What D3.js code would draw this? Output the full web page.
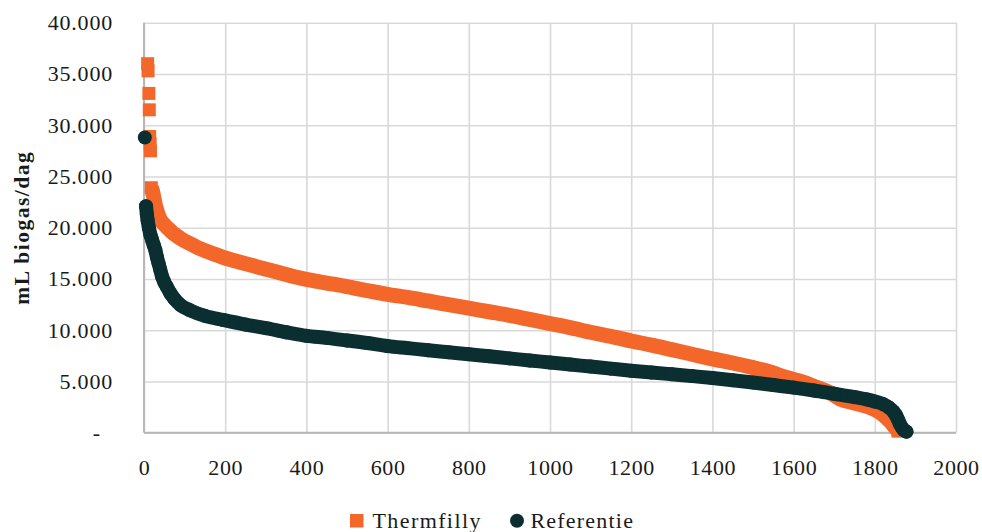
<!DOCTYPE html>
<html>
<head>
<meta charset="utf-8">
<script src="https://cdn.jsdelivr.net/npm/d3@7"></script>
<style>
  html, body { margin: 0; padding: 0; background: #ffffff; }
  svg { display: block; }
  text { font-family: "Liberation Serif", "DejaVu Serif", serif; fill: #1a1a1a; }
</style>
</head>
<body>
<svg id="chart" width="982" height="532"></svg>
<script>
// ---- Data ----
const xTicks = [0, 200, 400, 600, 800, 1000, 1200, 1400, 1600, 1800, 2000];
const yTicks = [0, 5000, 10000, 15000, 20000, 25000, 30000, 35000, 40000];
const seriesNames = ["Thermfilly", "Referentie"];

// Thermfilly: isolated high values at the start
const thermHeadRank = [9, 10, 12, 13, 14, 15, 16];
const thermHeadVal  = [36000, 35300, 33100, 31500, 28900, 28200, 27500];
// Thermfilly: continuous duration curve
const thermRank = [18, 20, 24, 28, 33, 40, 50, 60, 72, 90, 113, 133, 154, 175, 195, 230, 277, 330, 400, 450, 500, 550, 600, 650, 700, 750, 800, 850, 900, 950, 1000, 1050, 1100, 1150, 1200, 1250, 1300, 1350, 1400, 1450, 1500, 1540, 1566, 1600, 1630, 1648, 1672, 1690, 1714, 1740, 1764, 1785, 1800, 1815, 1830, 1840, 1846, 1852, 1857];
const thermVal  = [23900, 23700, 23000, 22200, 21500, 20800, 20300, 19900, 19450, 18950, 18450, 18050, 17700, 17400, 17100, 16700, 16200, 15650, 14950, 14600, 14250, 13850, 13500, 13200, 12850, 12500, 12150, 11800, 11450, 11050, 10650, 10250, 9800, 9400, 8950, 8550, 8100, 7650, 7200, 6800, 6350, 5950, 5600, 5200, 4850, 4550, 4200, 3900, 3300, 3000, 2750, 2500, 2250, 1900, 1400, 1000, 700, 400, 150];

// Referentie: isolated high value at the start
const refHeadRank = [2];
const refHeadVal  = [28800];
// Referentie: continuous duration curve
const refRank = [5, 7, 9, 12, 16, 20, 24, 28, 32, 36, 40, 44, 50, 56, 65, 75, 90, 113, 150, 195, 250, 300, 350, 400, 450, 500, 550, 600, 650, 700, 750, 800, 850, 900, 950, 1000, 1050, 1100, 1150, 1200, 1250, 1300, 1350, 1400, 1450, 1500, 1550, 1600, 1650, 1700, 1750, 1780, 1800, 1820, 1835, 1846, 1852, 1857, 1862, 1867, 1872, 1878];
const refVal  = [22100, 21300, 20700, 20000, 19300, 18800, 18300, 17800, 17100, 16500, 15900, 15300, 14700, 14250, 13600, 13050, 12450, 11950, 11400, 11000, 10550, 10200, 9800, 9450, 9250, 9000, 8750, 8450, 8250, 8050, 7850, 7650, 7450, 7250, 7050, 6850, 6650, 6450, 6250, 6050, 5880, 5700, 5520, 5330, 5120, 4900, 4650, 4400, 4120, 3800, 3480, 3250, 3050, 2800, 2450, 2050, 1700, 1300, 850, 500, 250, 100];

// ---- Styles ----
const ORANGE = "#f3672b";
const DARK = "#0b2e31";
const SQ = 13;     // square marker side
const CR = 7;      // circle marker radius

const svg = d3.select("#chart");
const x = d3.scaleLinear().domain([0, 2000]).range([144, 956]);
const y = d3.scaleLinear().domain([0, 40000]).range([432.7, 22.7]);

const loc = d3.formatLocale({ decimal: ",", thousands: ".", grouping: [3], currency: ["", ""] });
const fmt = loc.format(",d");

// Gridlines
svg.append("g")
  .attr("transform", `translate(0,${y(0)})`)
  .call(d3.axisBottom(x).tickValues(xTicks).tickSize(-(y(0) - y(40000))).tickFormat(""))
  .call(g => g.select(".domain").remove())
  .call(g => g.selectAll("line").attr("stroke", "#d9d9d9").attr("stroke-width", 1.6));
svg.append("g")
  .attr("transform", `translate(${x(0)},0)`)
  .call(d3.axisLeft(y).tickValues(yTicks).tickSize(-(x(2000) - x(0))).tickFormat(""))
  .call(g => g.select(".domain").remove())
  .call(g => g.selectAll("line").attr("stroke", "#d9d9d9").attr("stroke-width", 1.6));

// Axis lines
svg.append("line").attr("x1", x(0)).attr("x2", x(0)).attr("y1", y(40000)).attr("y2", y(0))
  .attr("stroke", "#b7b7b7").attr("stroke-width", 2);
svg.append("line").attr("x1", x(0)).attr("x2", x(2000)).attr("y1", y(0)).attr("y2", y(0))
  .attr("stroke", "#b7b7b7").attr("stroke-width", 2);

// Y tick labels
const yAx = svg.append("g")
  .attr("transform", `translate(${x(0)},0)`)
  .call(d3.axisLeft(y).tickValues(yTicks).tickSize(0).tickPadding(31)
    .tickFormat(d => d === 0 ? "-" : fmt(d)))
  .call(g => g.select(".domain").remove());
yAx.selectAll("text").attr("font-size", 22).attr("letter-spacing", 0.8)
  .attr("font-family", "Liberation Serif, serif").attr("fill", "#1a1a1a");
yAx.selectAll(".tick").filter(d => d === 0).select("text").attr("dx", -12);

// X tick labels
const xAx = svg.append("g")
  .attr("transform", `translate(0,${y(0)})`)
  .call(d3.axisBottom(x).tickValues(xTicks).tickSize(0).tickPadding(27).tickFormat(d => String(d)))
  .call(g => g.select(".domain").remove());
xAx.selectAll("text").attr("font-size", 22).attr("letter-spacing", 0.6)
  .attr("font-family", "Liberation Serif, serif").attr("fill", "#1a1a1a");

// Y axis title
svg.append("text")
  .attr("transform", `translate(29,${(y(0) + y(40000)) / 2}) rotate(-90)`)
  .attr("text-anchor", "middle")
  .attr("font-size", 21.5).attr("font-weight", "bold").attr("letter-spacing", 1.5)
  .text("mL biogas/dag");

const thermPts = thermRank.map((r, i) => [r, thermVal[i]]);
const thermHead = thermHeadRank.map((r, i) => [r, thermHeadVal[i]]);
const refPts = refRank.map((r, i) => [r, refVal[i]]);
const refHead = refHeadRank.map((r, i) => [r, refHeadVal[i]]);

const line = d3.line().x(d => x(d[0])).y(d => y(d[1])).curve(d3.curveMonotoneX);

// Series: Thermfilly (dense orange squares -> thick band)
const gT = svg.append("g");
gT.append("path").datum(thermPts).attr("d", line)
  .attr("fill", "none").attr("stroke", ORANGE).attr("stroke-width", SQ + 2)
  .attr("stroke-linejoin", "round").attr("stroke-linecap", "butt");
gT.selectAll("rect").data(thermHead.concat([thermPts[0], thermPts[thermPts.length - 1]])).join("rect")
  .attr("x", d => x(d[0]) - SQ / 2).attr("y", d => y(d[1]) - SQ / 2)
  .attr("width", SQ).attr("height", SQ).attr("fill", ORANGE);

// Series: Referentie (dense dark circles -> thick band)
const gR = svg.append("g");
gR.append("path").datum(refPts).attr("d", line)
  .attr("fill", "none").attr("stroke", DARK).attr("stroke-width", CR * 2)
  .attr("stroke-linejoin", "round").attr("stroke-linecap", "round");
gR.selectAll("circle").data(refHead.concat(refPts)).join("circle")
  .attr("cx", d => x(d[0])).attr("cy", d => y(d[1])).attr("r", CR).attr("fill", DARK);

// Legend
const lg = svg.append("g");
lg.append("rect").attr("x", 350).attr("y", 514).attr("width", 13.5).attr("height", 13.5).attr("fill", ORANGE);
lg.append("text").attr("x", 372.5).attr("y", 527.5).attr("font-size", 22).attr("letter-spacing", 1.4).text(seriesNames[0]);
lg.append("circle").attr("cx", 517).attr("cy", 520.7).attr("r", 7).attr("fill", DARK);
lg.append("text").attr("x", 530.5).attr("y", 527.5).attr("font-size", 22).attr("letter-spacing", 1.2).text(seriesNames[1]);
</script>
</body>
</html>
